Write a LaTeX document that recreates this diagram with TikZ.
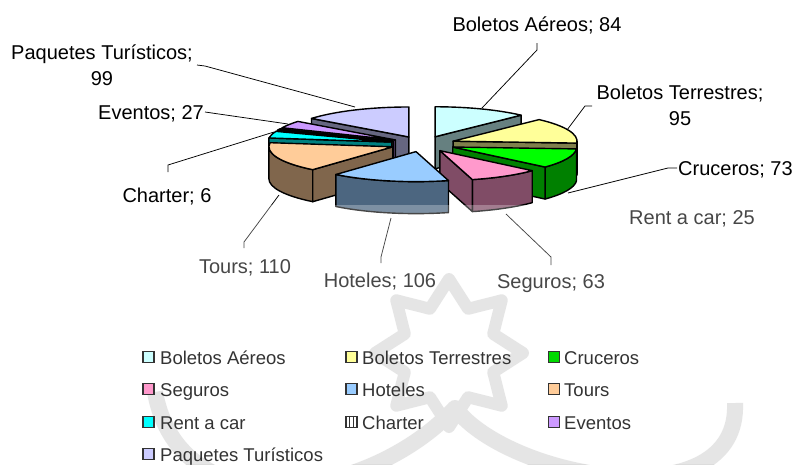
\documentclass[tikz,border=0pt]{standalone}
\usepackage{fontspec}
\setmainfont{Liberation Sans}
\usetikzlibrary{calc}
\definecolor{aereoT}{HTML}{CCFFFF}\definecolor{aereoS}{HTML}{668080}
\definecolor{terrT}{HTML}{FFFF99}\definecolor{terrS}{HTML}{80804C}
\definecolor{cruT}{HTML}{00FF00}\definecolor{cruS}{HTML}{008000}
\definecolor{segT}{HTML}{FF99CC}\definecolor{segS}{HTML}{804C66}
\definecolor{hotT}{HTML}{99CCFF}\definecolor{hotS}{HTML}{4C6680}
\definecolor{tourT}{HTML}{FFCC99}\definecolor{tourS}{HTML}{80664C}
\definecolor{rentT}{HTML}{00FFFF}\definecolor{rentS}{HTML}{008080}
\definecolor{chartT}{HTML}{333333}\definecolor{chartS}{HTML}{1A1A1A}
\definecolor{evT}{HTML}{CC99FF}\definecolor{evS}{HTML}{664C80}
\definecolor{paqT}{HTML}{CCCCFF}\definecolor{paqS}{HTML}{666680}
\definecolor{wmark}{HTML}{DCDCDC}
\newcommand\pieslice[5]{%
  \pgfmathsetmacro\sa{#1/688*360}%
  \pgfmathsetmacro\sb{#2/688*360}%
  \pgfmathsetmacro\sm{(\sa+\sb)/2}%
  \pgfmathsetmacro\ax{423+0.26*124*sin(\sm)}%
  \pgfmathsetmacro\ay{144-0.26*30*cos(\sm)}%
  \pgfmathsetmacro\pa{\sa-90}%
  \pgfmathsetmacro\pb{\sb-90}%
  \coordinate (#5) at (\ax,\ay);
  \pgfmathsetmacro\wa{max(\sa,90)-90}%
  \pgfmathsetmacro\wb{min(\sb,270)-90}%
  \pgfmathtruncatemacro\haswall{\wb>\wa}%
  \ifnum\haswall=1
    \filldraw[slice,fill=#4] ($(#5)+(\wa:124 and 30)$) arc[start angle=\wa,end angle=\wb,x radius=124,y radius=30] -- ++(0,32) arc[start angle=\wb,end angle=\wa,x radius=124,y radius=30] -- cycle;
  \fi
  \pgfmathtruncatemacro\visa{sin(\sa)<-0.001}%
  \ifnum\visa=1
    \filldraw[slice,fill=#4] (#5) -- ++(\pa:124 and 30) -- ++(0,32) -- ($(#5)+(0,32)$) -- cycle;
  \fi
  \pgfmathtruncatemacro\visb{sin(\sb)>0.001}%
  \ifnum\visb=1
    \filldraw[slice,fill=#4] (#5) -- ++(\pb:124 and 30) -- ++(0,32) -- ($(#5)+(0,32)$) -- cycle;
  \fi
  \filldraw[slice,fill=#3] (#5) -- ++(\pa:124 and 30) arc[start angle=\pa,end angle=\pb,x radius=124,y radius=30] -- cycle;
}
\begin{document}
\begin{tikzpicture}[x=1pt,y=-1pt,
  slice/.style={draw=black,line width=1.4,line join=round},
  lbl/.style={font=\fontsize{20}{26}\selectfont,inner sep=0,anchor=base,text=black},
  legtxt/.style={font=\fontsize{18.5}{22}\selectfont,inner sep=0,anchor=base west,text=black!80},
  legsq/.style={draw=black!80,line width=1.5,minimum size=11,inner sep=0},
  leader/.style={draw=black,line width=0.75}]
\useasboundingbox (0,0) rectangle (795,464);
\fill[white] (0,0) rectangle (795,464);
% watermark
\draw[wmark,line width=12,line join=round]
  (449,279) -- (468.1,308.8) -- (501.7,300.3) -- (493.2,333.9) -- (523,353) -- (493.2,372.1) -- (501.7,405.7) -- (468.1,397.2) -- (449,427) -- (429.9,397.2) -- (396.3,405.7) -- (404.8,372.1) -- (375,353) -- (404.8,333.9) -- (396.3,300.3) -- (429.9,308.8) -- cycle;
\draw[wmark,line width=16,line join=round]
  (155,392) .. controls (180,530) and (370,500) .. (455,408) .. controls (510,480) and (740,520) .. (735,403);
% pie
\pieslice{0}{84}{aereoT}{aereoS}{sA}
\pieslice{589}{688}{paqT}{paqS}{sP}
\pieslice{562}{589}{evT}{evS}{sE}
\pieslice{556}{562}{chartT}{chartS}{sC}
\pieslice{531}{556}{rentT}{rentS}{sR}
\pieslice{84}{179}{terrT}{terrS}{sT}
\pieslice{421}{531}{tourT}{tourS}{sTo}
\pieslice{179}{252}{cruT}{cruS}{sCr}
\pieslice{252}{315}{segT}{segS}{sS}
\pieslice{315}{421}{hotT}{hotS}{sH}
% labels
\node[lbl] (lA) at (537,31) {Boletos Aéreos; 84};
\node[lbl] (lP) at (102,59) {\begin{tabular}[t]{@{}c@{}}Paquetes Turísticos;\\99\end{tabular}};
\node[lbl] (lT) at (680,99) {\begin{tabular}[t]{@{}c@{}}Boletos Terrestres;\\95\end{tabular}};
\node[lbl,anchor=base east] (lE) at (204,119) {Eventos; 27};
\node[lbl,anchor=base west] (lCr) at (678,175) {Cruceros; 73};
\node[lbl] (lC) at (167,202) {Charter; 6};
\node[lbl] (lR) at (692,224) {Rent a car; 25};
\node[lbl] (lTo) at (245,273) {Tours; 110};
\node[lbl] (lH) at (380,287) {Hoteles; 106};
\node[lbl] (lS) at (551,288) {Seguros; 63};
% leader coordinates
\coordinate (kA1) at (537,43); \coordinate (kA2) at (537,50); \coordinate (pA) at (482,108);
\coordinate (kP1) at (197,65); \coordinate (kP2) at (205,66); \coordinate (pP) at (355,107);
\coordinate (kT1) at (592,106); \coordinate (kT2) at (585,106); \coordinate (pT) at (567,130);
\coordinate (kE1) at (205,112); \coordinate (pE) at (288,124);
\coordinate (kCr1) at (677,168); \coordinate (kCr2) at (668,168); \coordinate (pCr) at (568,193);
\coordinate (kC1) at (168,172); \coordinate (kC2) at (168,165); \coordinate (pC) at (274,132);
\coordinate (kTo1) at (244,248); \coordinate (kTo2) at (244,242); \coordinate (pTo) at (279,195);
\coordinate (kH1) at (381,263); \coordinate (kH2) at (381,257); \coordinate (pH) at (391,218);
\coordinate (kS1) at (551,265); \coordinate (kS2) at (551,257); \coordinate (pS) at (506,214);
\draw[leader] (kA1) -- (kA2) -- (pA);
\draw[leader] (kP1) -- (kP2) -- (pP);
\draw[leader] (kT1) -- (kT2) -- (pT);
\draw[leader] (kE1) -- (pE);
\draw[leader] (kCr1) -- (kCr2) -- (pCr);
\draw[leader] (kC1) -- (kC2) -- (pC);
\draw[leader] (kTo1) -- (kTo2) -- (pTo);
\draw[leader] (kH1) -- (kH2) -- (pH);
\draw[leader] (kS1) -- (kS2) -- (pS);
% overlay
\fill[white,opacity=0.28] (0,205) rectangle (795,464);
% legend
\node[legsq,fill=aereoT] (q1) at (148.5,357) {};
\node[legtxt] (t1) at (160,364) {Boletos Aéreos};
\node[legsq,fill=terrT] (q2) at (351.5,357) {};
\node[legtxt] (t2) at (362,364) {Boletos Terrestres};
\node[legsq,fill=cruT!85!black] (q3) at (554,357) {};
\node[legtxt] (t3) at (564,364) {Cruceros};
\node[legsq,fill=segT] (q4) at (148.5,389) {};
\node[legtxt] (t4) at (160,396) {Seguros};
\node[legsq,fill=hotT] (q5) at (351.5,389) {};
\node[legtxt] (t5) at (362,396) {Hoteles};
\node[legsq,fill=tourT] (q6) at (554,389) {};
\node[legtxt] (t6) at (564,396) {Tours};
\node[legsq,fill=rentT] (q7) at (148.5,422) {};
\node[legtxt] (t7) at (160,429) {Rent a car};
\node[legsq,fill=white] (q8) at (351.5,422) {};
\draw[black!80,line width=1.4] ($(q8.north)+(-1.9,0)$) -- ($(q8.south)+(-1.9,0)$) ($(q8.north)+(1.9,0)$) -- ($(q8.south)+(1.9,0)$);
\node[legtxt] (t8) at (362,429) {Charter};
\node[legsq,fill=evT] (q9) at (554,422) {};
\node[legtxt] (t9) at (564,429) {Eventos};
\node[legsq,fill=paqT] (q10) at (148.5,454) {};
\node[legtxt] (t10) at (160,461) {Paquetes Turísticos};
\end{tikzpicture}
\end{document}
